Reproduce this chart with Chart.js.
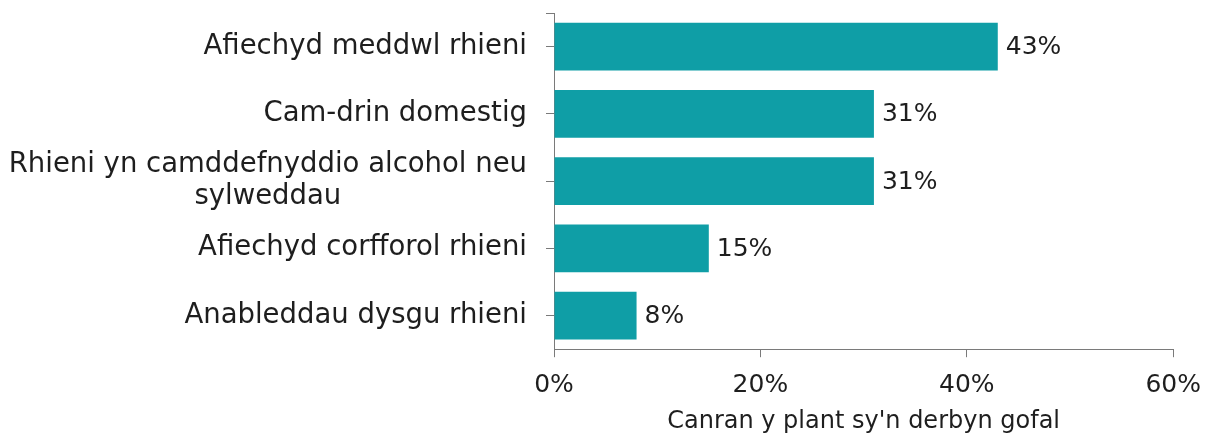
<!DOCTYPE html>
<html lang="cy">
<head>
<meta charset="UTF-8">
<title>Canran y plant sy'n derbyn gofal</title>
<script src="https://cdn.jsdelivr.net/npm/chart.js"></script>
<style>
  html, body { margin: 0; padding: 0; background: #fff; }
  #wrap { width: 1214px; height: 438px; }
</style>
</head>
<body>
<div id="wrap"><canvas id="chart"></canvas></div>
<script>
const categories = [
  "Afiechyd meddwl rhieni",
  "Cam-drin domestig",
  ["Rhieni yn camddefnyddio alcohol neu", "sylweddau"],
  "Afiechyd corfforol rhieni",
  "Anableddau dysgu rhieni"
];
const values = [43, 31, 31, 15, 8];
const xTicks = [0, 20, 40, 60];
const axisTitle = "Canran y plant sy'n derbyn gofal";

const fontFamily = "'DejaVu Sans', sans-serif";
const fontSize = 25;
const catFontSize = 27.5;
const textColor = "#1e1e1e";
const axisColor = "#7a7a7a";
const barColor = "#0f9ea6";

// value labels at bar ends, centred multi-line y label, top end tick
const extras = {
  id: "extras",
  afterDatasetsDraw(chart) {
    const ctx = chart.ctx;
    const meta = chart.getDatasetMeta(0);
    ctx.save();
    ctx.font = fontSize + "px " + fontFamily;
    ctx.fillStyle = textColor;
    ctx.textAlign = "left";
    ctx.textBaseline = "middle";
    meta.data.forEach((bar, i) => {
      ctx.fillText(values[i] + "%", bar.x + 8, bar.y + 1);
    });
    ctx.restore();
  },
  afterDraw(chart) {
    const ctx = chart.ctx;
    const y = chart.scales.y;
    const area = chart.chartArea;
    ctx.save();
    ctx.strokeStyle = axisColor;
    ctx.lineWidth = 1;
    ctx.beginPath();
    ctx.moveTo(area.left - 8, area.top + 0.5);
    ctx.lineTo(area.left, area.top + 0.5);
    ctx.stroke();

    categories.forEach((lab, i) => {
      if (!Array.isArray(lab)) return;
      ctx.font = catFontSize + "px " + fontFamily;
      ctx.fillStyle = textColor;
      ctx.textAlign = "center";
      ctx.textBaseline = "middle";
      const w = Math.max(...lab.map(s => ctx.measureText(s).width));
      const right = area.left - 8 - 19;
      const cx = right - w / 2;
      const cy = y.getPixelForValue(i);
      const lh = 32;
      lab.forEach((s, k) => {
        ctx.fillText(s, cx, cy + (k - (lab.length - 1) / 2) * lh);
      });
    });
    ctx.restore();
  }
};

new Chart(document.getElementById("chart"), {
  type: "bar",
  data: {
    labels: categories,
    datasets: [{
      data: values,
      backgroundColor: barColor,
      borderWidth: 0,
      barPercentage: 0.71,
      categoryPercentage: 1
    }]
  },
  options: {
    indexAxis: "y",
    responsive: true,
    maintainAspectRatio: false,
    animation: false,
    layout: { padding: { top: 13, right: 36, bottom: 2, left: 0 } },
    plugins: {
      legend: { display: false },
      tooltip: { enabled: false }
    },
    scales: {
      x: {
        min: 0,
        max: 60,
        afterBuildTicks(scale) {
          scale.ticks = xTicks.map(v => ({ value: v }));
        },
        ticks: {
          callback: v => v + "%",
          color: textColor,
          font: { family: fontFamily, size: fontSize },
          padding: 13
        },
        grid: {
          drawOnChartArea: false,
          drawTicks: true,
          tickLength: 8,
          color: axisColor
        },
        border: { color: axisColor, width: 1 },
        title: {
          display: true,
          text: axisTitle,
          color: textColor,
          font: { family: fontFamily, size: 24 },
          padding: { top: -6, bottom: 0 }
        }
      },
      y: {
        afterFit(scale) {
          scale.width = 554;
          scale.paddingTop = 0;
          scale.paddingBottom = 0;
        },
        ticks: {
          autoSkip: false,
          color: c => Array.isArray(categories[c.index]) ? "transparent" : textColor,
          font: { family: fontFamily, size: catFontSize },
          padding: 19
        },
        grid: {
          drawOnChartArea: false,
          offset: false,
          tickLength: 8,
          color: axisColor
        },
        border: { color: axisColor, width: 1 }
      }
    }
  },
  plugins: [extras]
});
</script>
</body>
</html>
